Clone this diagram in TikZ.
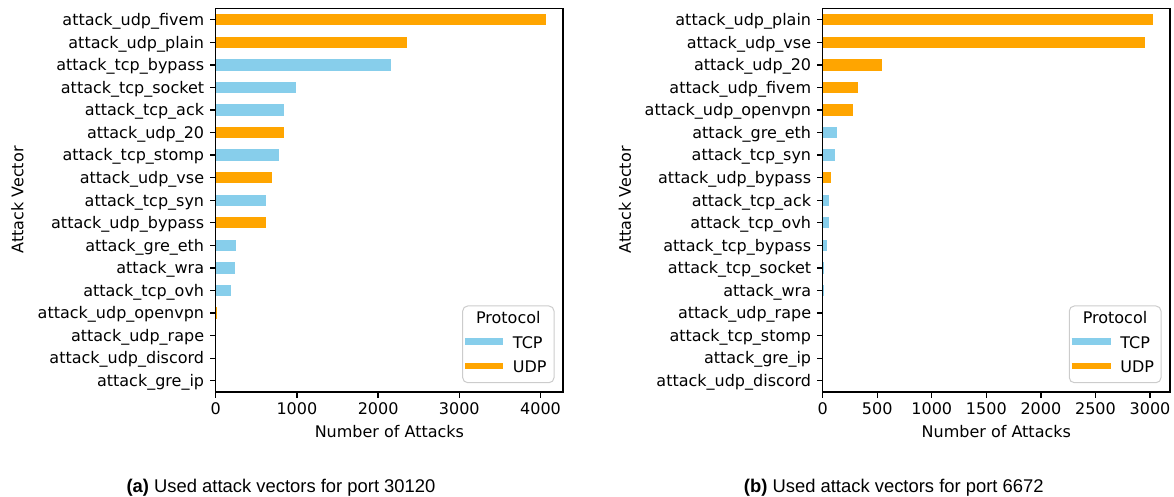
\documentclass[tikz,border=0pt]{standalone}
\usepackage{fontspec}
\setmainfont{DejaVu Sans}
\newfontfamily\capfont{Liberation Sans}
\definecolor{tcpc}{HTML}{87CEEB}
\definecolor{udpc}{HTML}{FFA500}
\definecolor{frameg}{gray}{0.8}
\tikzset{
  spine/.style={draw=black, line width=0.64pt},
  tickmark/.style={black, line width=0.64pt},
  ylab/.style={anchor=base east, inner sep=0pt, font=\fontsize{8}{9.6}\selectfont},
  xlab/.style={anchor=base, inner sep=0pt, font=\fontsize{8}{9.6}\selectfont},
  axtitle/.style={inner sep=0pt, font=\fontsize{8}{9.6}\selectfont},
  legframe/.style={draw=frameg, fill=white, line width=0.5pt, rounded corners=2.5pt},
  legline/.style={line width=3.2pt},
  captext/.style={anchor=base, inner sep=0pt, font=\capfont\fontsize{9.2}{11}\selectfont},
}
\begin{document}
\begin{tikzpicture}[x=0.5pt,y=-0.5pt]
\useasboundingbox (0,0) rectangle (1174,497);

% ---------- panel (a): port 30120 ----------
\def\xo{215.7}\def\xe{563}\def\sc{0.0812}
\foreach \lab/\v/\c [count=\i from 0] in {
  attack\_udp\_fivem/4064/udpc, attack\_udp\_plain/2352/udpc,
  attack\_tcp\_bypass/2163/tcpc, attack\_tcp\_socket/985/tcpc,
  attack\_tcp\_ack/837/tcpc, attack\_udp\_20/837/udpc,
  attack\_tcp\_stomp/783/tcpc, attack\_udp\_vse/693/udpc,
  attack\_tcp\_syn/624/tcpc, attack\_udp\_bypass/624/udpc,
  attack\_gre\_eth/246/tcpc, attack\_wra/234/tcpc,
  attack\_tcp\_ovh/192/tcpc, attack\_udp\_openvpn/20/udpc,
  attack\_udp\_rape/0/tcpc, attack\_udp\_discord/0/tcpc,
  attack\_gre\_ip/0/tcpc}{
  \pgfmathsetmacro\yc{8.5+(\i+0.5)*22.56}
  \fill[\c] (\xo,\yc-5.64) rectangle ({\xo+\v*\sc},\yc+5.64);
  \draw[tickmark] (\xo,\yc) -- ++(-5.6,0);
  \node[ylab] (la\i) at (\xo-11.2,\yc+5.8) {\lab};
}
\foreach \t in {0,1000,2000,3000,4000}{
  \draw[tickmark] ({\xo+\t*\sc},392) -- ++(0,5.6);
  \node[xlab] (lax\t) at ({\xo+\t*\sc},415) {\t};
}
\draw[spine] (\xo,8.5) rectangle (\xe,392);
\node[axtitle, anchor=base] (laxt) at (389.4,437.5) {Number of Attacks};
\node[axtitle, rotate=90] (layt) at (17.5,200) {Attack Vector};
% legend
\draw[legframe] (462.7,306) rectangle (554,382.7);
\node[axtitle, anchor=base] (lleg) at (508.3,324) {Protocol};
\coordinate (ltcp1) at (465,341.7); \coordinate (ltcp2) at (503.3,341.7);
\coordinate (ludp1) at (465,366); \coordinate (ludp2) at (503.3,366);
\draw[legline, tcpc] (ltcp1) -- (ltcp2);
\draw[legline, udpc] (ludp1) -- (ludp2);
\node[xlab, anchor=base west] (ltcp) at (512.5,348.3) {TCP};
\node[xlab, anchor=base west] (ludp) at (512.5,372.5) {UDP};

% ---------- panel (b): port 6672 ----------
\def\xo{822.7}\def\xe{1170}\def\sc{0.1091}
\foreach \lab/\v/\c [count=\i from 0] in {
  attack\_udp\_plain/3025/udpc, attack\_udp\_vse/2952/udpc,
  attack\_udp\_20/541/udpc, attack\_udp\_fivem/326/udpc,
  attack\_udp\_openvpn/281/udpc, attack\_gre\_eth/131/tcpc,
  attack\_tcp\_syn/110/tcpc, attack\_udp\_bypass/79/udpc,
  attack\_tcp\_ack/59/tcpc, attack\_tcp\_ovh/58/tcpc,
  attack\_tcp\_bypass/37/tcpc, attack\_tcp\_socket/15/tcpc,
  attack\_wra/12/tcpc, attack\_udp\_rape/0/tcpc,
  attack\_tcp\_stomp/0/tcpc, attack\_gre\_ip/0/tcpc,
  attack\_udp\_discord/0/tcpc}{
  \pgfmathsetmacro\yc{8.5+(\i+0.5)*22.56}
  \fill[\c] (\xo,\yc-5.64) rectangle ({\xo+\v*\sc},\yc+5.64);
  \draw[tickmark] (\xo,\yc) -- ++(-5.6,0);
  \node[ylab] (lb\i) at (\xo-11.2,\yc+5.8) {\lab};
}
\foreach \t in {0,500,1000,1500,2000,2500,3000}{
  \draw[tickmark] ({\xo+\t*\sc},392) -- ++(0,5.6);
  \node[xlab] (lbx\t) at ({\xo+\t*\sc},415) {\t};
}
\draw[spine] (\xo,8.5) rectangle (\xe,392);
\node[axtitle, anchor=base] (lbxt) at (996.3,437.5) {Number of Attacks};
\node[axtitle, rotate=90] (lbyt) at (625,200) {Attack Vector};
% legend
\draw[legframe] (1069.3,306) rectangle (1161,382.7);
\node[axtitle, anchor=base] (rleg) at (1115,324) {Protocol};
\coordinate (rtcp1) at (1071.7,341.7); \coordinate (rtcp2) at (1110.7,341.7);
\coordinate (rudp1) at (1071.7,366); \coordinate (rudp2) at (1110.7,366);
\draw[legline, tcpc] (rtcp1) -- (rtcp2);
\draw[legline, udpc] (rudp1) -- (rudp2);
\node[xlab, anchor=base west] (rtcp) at (1119.9,348.3) {TCP};
\node[xlab, anchor=base west] (rudp) at (1119.9,372.5) {UDP};

% ---------- captions ----------
\node[captext] (capa) at (281,492.3) {\textbf{(a)} Used attack vectors for port 30120};
\node[captext] (capb) at (893.8,492.3) {\textbf{(b)} Used attack vectors for port 6672};
\end{tikzpicture}
\end{document}
